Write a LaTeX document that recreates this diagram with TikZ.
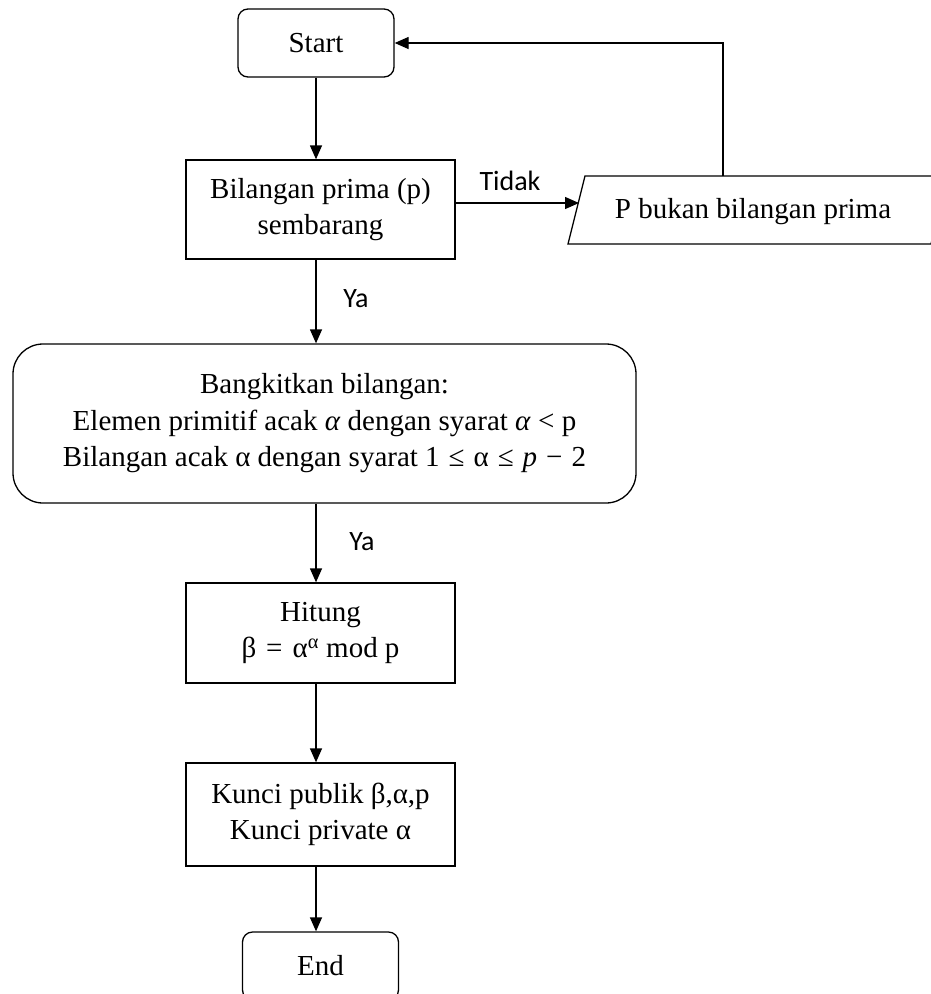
\documentclass[tikz,border=0pt]{standalone}
\usepackage{fontspec}
\setmainfont{Liberation Serif}
\newfontfamily\labelfont{Carlito}
\usetikzlibrary{arrows.meta}
\begin{document}
\begin{tikzpicture}[x=1pt,y=-1pt, line width=1.3pt,
  txt/.style={font=\fontsize{29}{36.5}\selectfont},
  box/.style={draw, rectangle, txt, minimum width=269pt, minimum height=100pt, align=center, inner sep=0pt},
  term/.style={draw, rectangle, txt, rounded corners=10pt, minimum width=156pt, minimum height=68pt, inner sep=0pt},
  procbox/.style={draw, rectangle, txt, rounded corners=30pt, minimum width=623pt, minimum height=159pt, align=center, inner sep=0pt},
  lbl/.style={font=\labelfont\fontsize{28}{30}\selectfont},
  arr/.style={-{Triangle[length=14pt,width=12pt]}}]
\useasboundingbox (0,0) rectangle (931,994);
\clip (0,0) rectangle (931,994);

\node[term] (start) at (316,43) {Start};
\node[box, minimum height=99pt] (prime) at (320.5,209.5) {Bilangan prima (p)\\sembarang};
\node[procbox] (gen) at (324.5,423.5) {Bangkitkan bilangan:\\Elemen primitif acak \textit{α} dengan syarat \textit{α} < p\\Bilangan acak α dengan syarat 1\hspace{9pt}≤\hspace{9pt}α\hspace{9pt}≤\hspace{9pt}\textit{p}\hspace{9pt}−\hspace{9pt}2};
\node[box] (hit) at (320.5,633) {Hitung\\β\hspace{10pt}=\hspace{10pt}α\textsuperscript{α} mod p};
\node[box, minimum height=103pt] (key) at (320.5,814.5) {Kunci publik β,α,p\\Kunci private α};
\node[term] (end) at (320.5,966) {End};

% parallelogram (output)
\node[txt] (np) at (753,212) {P bukan bilangan prima};
\draw (568,244) -- (585,176) -- (948,176) -- (931,244) -- cycle;
\coordinate (npL) at (579,203);
\coordinate (npT) at (723,176);

% connectors
\draw[arr] (start.south) -- (start.south |- prime.north);
\draw[arr] (prime.east |- npL) -- (npL);
\draw[arr] (npT) |- (start.east);
\draw[arr] (prime.south -| start) -- (gen.north -| start);
\draw[arr] (gen.south -| start) -- (hit.north -| start);
\draw[arr] (hit.south -| start) -- (key.north -| start);
\draw[arr] (key.south -| start) -- (end.north -| start);

% labels
\node[lbl] (tidak) at (510,181) {Tidak};
\node[lbl] (ya1) at (356,299) {Ya};
\node[lbl] (ya2) at (362,542) {Ya};
\end{tikzpicture}
\end{document}
